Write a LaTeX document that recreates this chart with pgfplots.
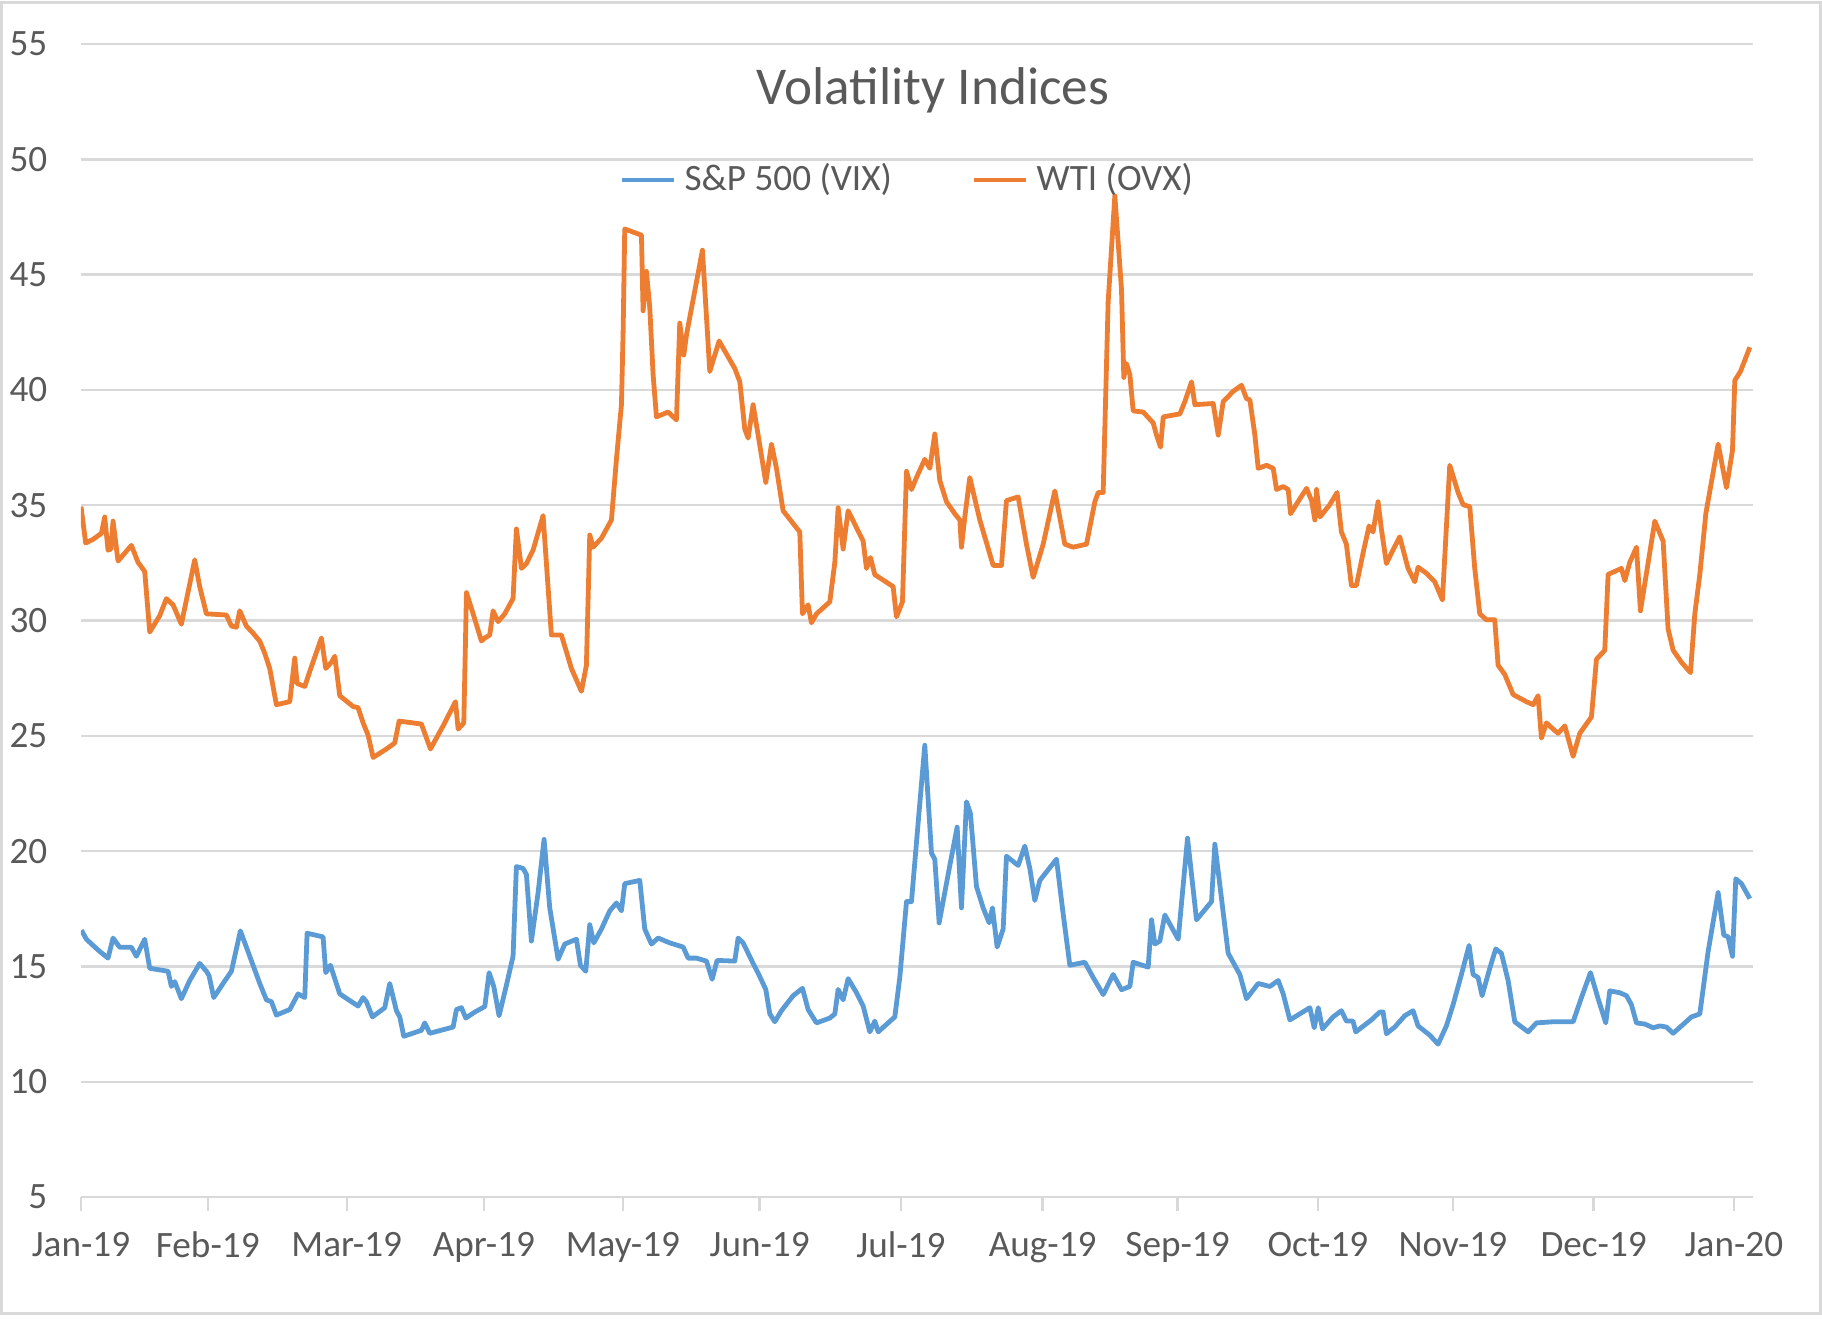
\documentclass[border=0pt]{standalone}
\usepackage{pgfplots}
\pgfplotsset{compat=1.18}
\usepackage{fontspec}
\setmainfont{Carlito}
\definecolor{vixblue}{HTML}{5B9BD5}
\definecolor{ovxorange}{HTML}{ED7D31}
\definecolor{gridgray}{HTML}{D9D9D9}
\definecolor{textgray}{HTML}{595959}
\begin{document}
\begin{tikzpicture}
\path[use as bounding box] (-20.25pt,-31.25pt) rectangle (435.25pt,299.25pt);
\draw[gridgray, line width=0.75pt] (-19.75pt,-29pt) rectangle (434.75pt,298.75pt);
\begin{axis}[
  at={(0pt,0pt)}, anchor=south west,
  scale only axis, width=418pt, height=288.25pt,
  xmin=0, xmax=369.3, ymin=5, ymax=55,
  ytick={5,10,...,55},
  xtick={0,28,58.7,89,119.7,149.9,181.1,212.4,242.2,273.2,303,334.1,365.1},
  xticklabels={Jan-19,Feb-19,Mar-19,Apr-19,May-19,Jun-19,Jul-19,Aug-19,Sep-19,Oct-19,Nov-19,Dec-19,Jan-20},
  axis line style={draw=none},
  ymajorgrids, grid style={line width=0.6pt, draw=gridgray},
  xtick pos=bottom, ytick pos=left,
  tick align=outside, major tick length=3.5pt,
  xtick style={draw=gridgray, line width=0.6pt},
  ytick style={draw=none},
  /pgf/number format/assume math mode=true,
  tick label style={font=\fontsize{9.3}{11}\selectfont, text=textgray},
  yticklabel style={xshift=-1.4pt},
  xticklabel style={yshift=-1.7pt},
  title={Volatility Indices},
  title style={at={(0.5096,0.9596)}, anchor=center, yshift=-6pt, font=\fontsize{13.3}{16}\selectfont, text=textgray},
  legend columns=2,
  legend style={at={(0.496,0.882)}, anchor=center, draw=none, fill=none,
    font=\fontsize{9.3}{11}\selectfont, text=textgray,
    /tikz/every even column/.append style={column sep=18pt}},
  legend image code/.code={\draw[#1, line width=1.2pt] (0pt,0pt) -- (13pt,0pt);},
]
\addplot[vixblue, line width=1.2pt, line join=round] coordinates {
(0.08,16.57)(1.19,16.18)(2.66,15.91)(4.13,15.65)(5.97,15.36)(7.08,16.23)(8.55,15.83)(11.13,15.83)(12.23,15.44)(14.07,16.18)(15.18,14.92)(19.23,14.79)(19.96,14.13)(20.70,14.34)(22.17,13.60)(24.01,14.39)(26.22,15.13)(27.70,14.79)(28.28,14.60)(29.32,13.65)(31.38,14.26)(33.22,14.79)(35.21,16.54)(37.27,15.44)(39.48,14.26)(40.95,13.55)(42.06,13.47)(43.16,12.89)(46.11,13.13)(47.95,13.81)(49.42,13.65)(49.94,16.44)(53.47,16.28)(54.06,14.73)(55.09,15.05)(57.15,13.81)(59.36,13.52)(61.20,13.28)(62.31,13.65)(63.04,13.47)(64.37,12.81)(67.09,13.21)(68.20,14.26)(69.67,13.08)(70.41,12.81)(71.29,11.97)(75.19,12.23)(75.93,12.55)(77.04,12.10)(82.19,12.37)(82.93,13.13)(84.03,13.21)(84.99,12.76)(86.98,13.02)(89.19,13.26)(90.14,14.73)(91.17,14.13)(92.34,12.86)(93.96,14.18)(95.43,15.44)(96.17,19.33)(97.64,19.25)(98.38,18.99)(99.48,16.10)(100.96,18.20)(102.28,20.51)(103.53,17.54)(105.38,15.31)(106.85,15.97)(109.43,16.18)(110.31,15.05)(111.49,14.79)(112.37,16.81)(113.26,16.02)(114.95,16.62)(116.79,17.41)(118.26,17.75)(119.37,17.41)(120.10,18.59)(123.42,18.73)(124.52,16.62)(126.00,15.97)(127.47,16.23)(130.05,16.02)(133.00,15.84)(134.10,15.36)(135.94,15.36)(138.15,15.23)(139.40,14.44)(140.50,15.26)(144.40,15.23)(145.14,16.23)(146.25,16.02)(148.45,15.13)(149.56,14.71)(151.25,14.00)(152.14,12.94)(153.24,12.60)(154.71,13.08)(157.29,13.73)(159.35,14.05)(160.60,13.13)(162.45,12.55)(165.39,12.76)(166.50,12.94)(167.23,14.00)(168.34,13.55)(169.44,14.47)(171.28,13.86)(172.76,13.28)(174.23,12.16)(175.33,12.63)(176.07,12.16)(179.75,12.81)(180.85,14.52)(182.33,17.81)(183.43,17.81)(184.90,21.22)(186.37,24.59)(187.85,19.91)(188.58,19.65)(189.54,16.89)(191.90,19.38)(193.52,21.04)(194.47,17.54)(195.58,22.14)(196.46,21.62)(197.79,18.46)(199.26,17.54)(200.59,16.89)(201.32,17.54)(202.35,15.84)(203.68,16.62)(204.41,19.78)(206.99,19.38)(208.46,20.22)(209.57,19.25)(210.67,17.86)(211.78,18.73)(215.46,19.65)(216.93,17.28)(218.41,15.05)(221.72,15.18)(223.56,14.52)(225.77,13.78)(227.98,14.65)(229.82,13.99)(231.66,14.13)(232.40,15.18)(235.71,14.97)(236.45,17.02)(237.18,15.97)(238.29,16.10)(239.39,17.23)(242.34,16.18)(244.40,20.56)(246.39,17.02)(249.70,17.81)(250.44,20.30)(253.38,15.57)(255.96,14.65)(257.43,13.60)(260.01,14.26)(262.59,14.13)(264.43,14.39)(265.53,13.81)(267.01,12.68)(271.43,13.21)(272.38,12.34)(273.27,13.21)(274.22,12.29)(276.55,12.81)(278.39,13.08)(279.49,12.63)(280.96,12.63)(281.55,12.16)(285.01,12.68)(286.85,13.02)(287.59,13.02)(288.33,12.08)(290.17,12.37)(292.38,12.86)(294.22,13.08)(295.32,12.42)(297.90,12.02)(299.74,11.63)(301.58,12.42)(303.06,13.34)(304.90,14.65)(306.59,15.91)(307.47,14.65)(308.58,14.52)(309.46,13.73)(311.16,14.92)(312.48,15.76)(313.73,15.57)(315.21,14.39)(316.68,12.60)(319.63,12.16)(321.47,12.55)(325.15,12.60)(329.57,12.60)(331.41,13.65)(333.40,14.73)(335.09,13.60)(336.78,12.55)(337.66,13.94)(339.87,13.86)(341.35,13.73)(342.45,13.34)(343.56,12.55)(345.40,12.50)(347.24,12.34)(348.71,12.42)(350.18,12.37)(351.66,12.10)(353.50,12.42)(355.71,12.81)(357.55,12.94)(359.39,15.65)(361.60,18.20)(362.85,16.36)(363.81,16.28)(364.77,15.44)(365.50,18.80)(366.75,18.59)(368.60,17.94)
};
\addlegendentry{S\&P 500 (VIX)}
\addplot[ovxorange, line width=1.2pt, line join=round] coordinates {
(0,34.94)(1.04,33.36)(2.66,33.52)(4.50,33.78)(5.24,34.49)(5.97,33.05)(6.6,33.1)(7.08,34.31)(8.18,32.58)(9.65,32.92)(11.13,33.26)(12.60,32.52)(14.07,32.13)(15.18,29.50)(17.39,30.21)(18.86,30.95)(20.33,30.68)(22.17,29.84)(25.12,32.63)(26.22,31.47)(27.70,30.29)(32.11,30.24)(33.22,29.76)(34.32,29.71)(35.06,30.42)(36.53,29.76)(38.01,29.45)(39.48,29.11)(40.58,28.58)(41.69,27.92)(43.16,26.35)(46.11,26.48)(47.21,28.37)(47.73,27.27)(49.42,27.14)(50.89,28.00)(53.10,29.24)(54.06,27.92)(55.31,28.19)(56.05,28.45)(57.15,26.74)(60.10,26.27)(61.20,26.22)(62.31,25.56)(63.41,25.03)(64.52,24.06)(67.46,24.43)(69.30,24.69)(70.26,25.64)(75.19,25.51)(77.18,24.43)(79.98,25.43)(82.71,26.48)(83.30,25.29)(84.55,25.56)(85.14,31.21)(86.61,30.29)(88.45,29.11)(89.17,29.24)(90.28,29.37)(91.02,30.42)(92.12,29.95)(93.59,30.29)(95.43,30.95)(96.17,33.97)(97.28,32.26)(98.38,32.47)(99.85,33.05)(102.06,34.55)(103.90,29.37)(106.11,29.37)(108.32,27.92)(110.53,26.93)(111.63,28.06)(112.37,33.71)(113.11,33.18)(114.95,33.57)(117.16,34.36)(118.26,36.99)(119.37,39.36)(119.74,42.51)(120.10,46.98)(123.79,46.71)(124.15,43.43)(124.89,45.14)(125.63,43.56)(126.36,40.67)(127.10,38.83)(129.68,39.04)(131.52,38.70)(132.25,42.90)(133.14,41.51)(133.73,42.38)(137.26,46.06)(138.88,40.80)(140.94,42.12)(144.40,40.93)(145.51,40.36)(146.61,38.30)(147.35,37.91)(148.45,39.36)(149.56,38.04)(151.25,35.99)(152.51,37.65)(153.61,36.60)(155.08,34.76)(158.76,33.84)(159.35,30.29)(160.60,30.68)(161.34,29.90)(162.45,30.29)(165.39,30.81)(166.50,32.52)(167.23,34.89)(168.34,33.10)(169.44,34.76)(172.76,33.44)(173.49,32.26)(174.38,32.73)(175.33,31.99)(179.38,31.47)(180.12,30.16)(181.44,30.81)(182.33,36.47)(183.43,35.68)(184.53,36.20)(186.37,36.99)(187.48,36.60)(188.58,38.09)(189.69,36.07)(191.16,35.15)(193.00,34.63)(194.11,34.36)(194.47,33.18)(195.21,34.49)(196.31,36.20)(198.52,34.36)(201.47,32.39)(203.31,32.39)(204.41,35.20)(206.99,35.36)(208.83,33.31)(210.31,31.87)(212.52,33.31)(215.09,35.62)(217.30,33.31)(219.14,33.18)(222.09,33.31)(223.93,35.15)(224.67,35.55)(225.77,35.55)(226.87,43.82)(228.35,48.42)(229.82,44.35)(230.33,40.54)(230.92,41.14)(231.66,40.67)(232.40,39.09)(234.61,39.04)(236.82,38.57)(237.55,38.04)(238.44,37.52)(239.03,38.83)(242.71,38.96)(243.81,39.49)(245.29,40.35)(246.02,39.36)(250.07,39.41)(251.18,38.04)(252.28,39.49)(254.49,39.94)(256.33,40.20)(257.43,39.62)(258.17,39.57)(259.28,38.04)(260.01,36.60)(261.85,36.73)(263.33,36.60)(264.06,35.68)(265.53,35.81)(266.64,35.68)(267.16,34.63)(269.22,35.28)(270.69,35.73)(271.80,35.20)(272.53,34.36)(272.90,35.68)(273.64,34.49)(275.81,35.02)(277.43,35.55)(278.39,33.84)(279.49,33.31)(280.60,31.52)(281.70,31.52)(283.17,32.92)(284.50,34.10)(285.38,33.84)(286.49,35.15)(287.22,33.97)(288.33,32.47)(289.43,32.92)(291.27,33.63)(293.11,32.26)(294.59,31.68)(295.32,32.31)(297.16,32.05)(299.01,31.68)(300.70,30.89)(302.32,36.73)(304.16,35.55)(305.27,35.02)(306.74,34.94)(307.84,32.26)(308.95,30.29)(310.42,30.03)(312.26,30.03)(313.00,28.06)(314.47,27.66)(316.31,26.79)(319.26,26.48)(320.73,26.35)(321.83,26.74)(322.57,24.90)(323.68,25.56)(325.15,25.29)(326.25,25.11)(327.73,25.43)(329.57,24.11)(331.04,25.11)(333.62,25.82)(334.72,28.32)(336.56,28.71)(337.30,32.00)(340.24,32.26)(340.98,31.73)(342.08,32.52)(343.56,33.18)(344.44,30.42)(347.61,34.31)(349.45,33.44)(350.55,29.63)(351.66,28.71)(353.50,28.19)(355.49,27.74)(356.45,30.29)(357.55,31.99)(358.88,34.63)(361.60,37.65)(363.44,35.76)(364.77,37.38)(365.28,40.41)(366.53,40.80)(368.60,41.85)
};
\addlegendentry{WTI (OVX)}
\end{axis}
\end{tikzpicture}
\end{document}
